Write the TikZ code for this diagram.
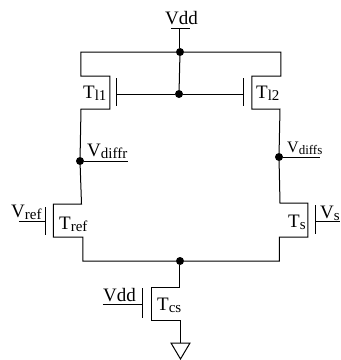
\documentclass[tikz,border=0pt]{standalone}
\usepackage{fontspec}
\setmainfont{Liberation Serif}
\usetikzlibrary{positioning}
\newcommand{\Sb}[1]{\raisebox{-2pt}{\fontsize{15}{15}\selectfont #1}}
\newcommand{\SbS}[1]{\raisebox{-2pt}{\fontsize{13}{13}\selectfont #1}}
\tikzstyle{Hilo}=[line width=1pt, line join=miter]
\tikzstyle{Union}=[circle, fill=black, inner sep=0pt, minimum size=8pt]
\tikzstyle{Etiqueta}=[inner sep=0pt, font=\fontsize{19}{19}\selectfont, anchor=base west]

\begin{document}
\begin{tikzpicture}[x=1pt, y=-1pt]
	\useasboundingbox (0,0) rectangle (341,360);
	\fill[white] (0,0) rectangle (341,360);

	%Nodos
	\node[Union]	(top)		at (180,52)		{};
	\node[Union]	(mirror)	at (179,94)		{};
	\node[Union]	(diffr)		at (80,161)		{};
	\node[Union]	(diffs)		at (279,157)	{};
	\node[Union]	(tail)		at (180,261)	{};

	\coordinate (vdd_top) at (180,28);
	\coordinate (vdd_a) at (171,28);
	\coordinate (vdd_b) at (190,28);
	\coordinate (diffr_end) at (128,161);
	\coordinate (diffs_end) at (320,157);
	\coordinate (ref_end) at (19,221);
	\coordinate (ref_gate) at (46,221);
	\coordinate (s_end) at (340,221);
	\coordinate (s_gate) at (316,221);
	\coordinate (cs_end) at (103,304);
	\coordinate (cs_gate) at (143,304);
	\coordinate (l1_gate) at (117,94);
	\coordinate (l2_gate) at (244,94);
	\coordinate (gnd) at (181,343);

	%Etiquetas
	\node[Etiqueta]	(vdd_lbl)	at (165,24)		{Vdd};
	\node[Etiqueta]	(l1_lbl)	at (83,98)		{T\Sb{l1}};
	\node[Etiqueta]	(l2_lbl)	at (256,98)		{T\Sb{l2}};
	\node[Etiqueta]	(diffr_lbl)	at (87,156)		{V\Sb{diffr}};
	\node[Etiqueta, font=\fontsize{16}{16}\selectfont]	(diffs_lbl)	at (287,152)	{V\SbS{diffs}};
	\node[Etiqueta]	(ref_lbl)	at (11,217)		{V\Sb{ref}};
	\node[Etiqueta]	(tref_lbl)	at (59,229)		{T\Sb{ref}};
	\node[Etiqueta]	(ts_lbl)	at (288,227)	{T\Sb{s}};
	\node[Etiqueta]	(vs_lbl)	at (320,218)	{V\Sb{s}};
	\node[Etiqueta]	(vdd2_lbl)	at (103,301)	{Vdd};
	\node[Etiqueta]	(tcs_lbl)	at (157,310)	{T\Sb{cs}};

	%Lineas
	\draw[Hilo] (vdd_a) -- (vdd_b);
	\draw[Hilo] (vdd_top) -- (top);
	\draw[Hilo] (top) -- (mirror);
	\draw[Hilo] (l1_gate) -- (mirror);
	\draw[Hilo] (mirror) -- (l2_gate);

	%T l1 y T l2
	\draw[Hilo] (top) -- (81,52) -- (81,76) -- (110,76) -- (110,109) -- (81,109) -- (diffr);
	\draw[Hilo] (top) -- (281,52) -- (281,76) -- (252,76) -- (252,109) -- (280,109) -- (diffs);
	\draw[Hilo] (117,78) -- (117,106);
	\draw[Hilo] (244,78) -- (244,106);

	%T ref y T s
	\draw[Hilo] (diffr) -- (81.5,204) -- (53.5,204) -- (53.5,237) -- (83,237) -- (83,261) -- (tail);
	\draw[Hilo] (diffs) -- (280,203) -- (308,203) -- (308,237) -- (279.5,237) -- (279.5,261) -- (tail);
	\draw[Hilo] (46,207) -- (46,235);
	\draw[Hilo] (316,205) -- (316,234);
	\draw[Hilo] (ref_end) -- (ref_gate);
	\draw[Hilo] (s_gate) -- (s_end);

	%T cs
	\draw[Hilo] (tail) -- (180,287) -- (152,287) -- (152,320) -- (181,320) -- (gnd);
	\draw[Hilo] (143,288) -- (143,318);
	\draw[Hilo] (cs_end) -- (cs_gate);
	\draw[Hilo] (171,343) -- (190,343) -- (180.5,359) -- cycle;

	%Subrayados
	\draw[Hilo] (diffr) -- (diffr_end);
	\draw[Hilo] (diffs) -- (diffs_end);
\end{tikzpicture}
\end{document}
